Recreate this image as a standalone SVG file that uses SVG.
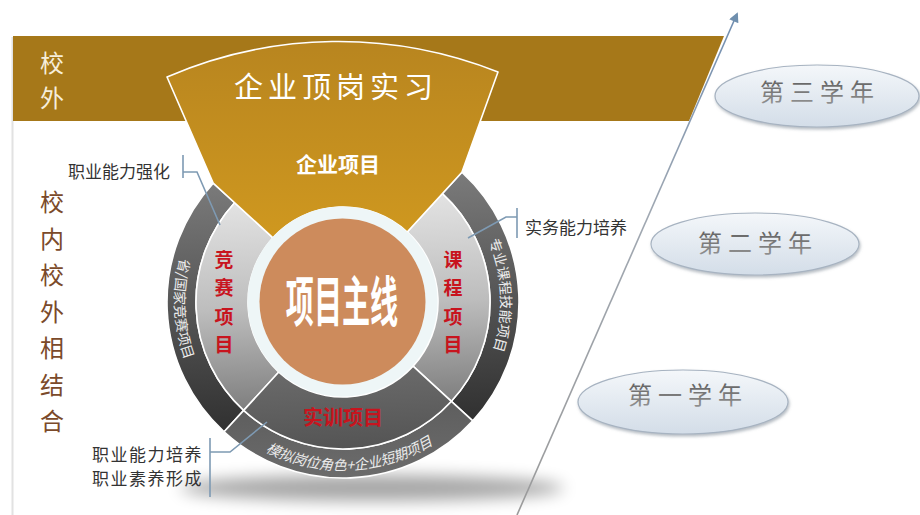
<svg xmlns="http://www.w3.org/2000/svg" width="920" height="515" viewBox="0 0 920 515">
<style>
.cal{font-family:"Noto Sans CJK SC","Noto Sans",sans-serif;}
.lbl{font-family:"Noto Sans CJK SC","Noto Sans",sans-serif;font-size:17px;fill:#333;}
.red{font-family:"Noto Sans CJK SC","Noto Sans",sans-serif;font-weight:bold;fill:#C8141E;text-anchor:middle;}
.ring{font-family:"Noto Sans CJK SC","Noto Sans",sans-serif;font-size:14px;fill:#ececec;}
.lead{fill:none;stroke:#7e9ab3;stroke-width:1.6;}
.seg{stroke:#fff;stroke-width:1.6;stroke-linejoin:round;}
.ell{stroke:#a7b3c1;stroke-width:1.2;fill:url(#ellG);filter:url(#ds);}
.yr{font-family:"Noto Sans CJK SC","Noto Sans",sans-serif;font-size:24px;letter-spacing:6px;fill:url(#txtG);text-anchor:middle;}
</style>
<defs>
<linearGradient id="goldG" x1="0" y1="0" x2="0" y2="1"><stop offset="0" stop-color="#B8851F"/><stop offset="1" stop-color="#CF981F"/></linearGradient>
<linearGradient id="outL" gradientUnits="userSpaceOnUse" x1="0" y1="180" x2="0" y2="430"><stop offset="0" stop-color="#7a7a7a"/><stop offset="1" stop-color="#2f2f2f"/></linearGradient>
<linearGradient id="inL" gradientUnits="userSpaceOnUse" x1="0" y1="200" x2="0" y2="410"><stop offset="0" stop-color="#e2e2e2"/><stop offset="0.5" stop-color="#bdbdbd"/><stop offset="1" stop-color="#7c7c7c"/></linearGradient>
<linearGradient id="inB" gradientUnits="userSpaceOnUse" x1="0" y1="370" x2="0" y2="450"><stop offset="0" stop-color="#6a6a6a"/><stop offset="1" stop-color="#545454"/></linearGradient>
<linearGradient id="outB" gradientUnits="userSpaceOnUse" x1="0" y1="405" x2="0" y2="480"><stop offset="0" stop-color="#5e5e5e"/><stop offset="1" stop-color="#6c6c6c"/></linearGradient>
<linearGradient id="ellG" x1="0" y1="0" x2="0" y2="1"><stop offset="0" stop-color="#f4f7fa"/><stop offset="1" stop-color="#d3dde8"/></linearGradient>
<linearGradient id="txtG" x1="0" y1="0" x2="0" y2="1"><stop offset="0" stop-color="#555"/><stop offset="1" stop-color="#999"/></linearGradient>
<linearGradient id="lineG" gradientUnits="userSpaceOnUse" x1="517" y1="515" x2="738" y2="12"><stop offset="0" stop-color="#9a9a9a"/><stop offset="0.6" stop-color="#a0a8b2"/><stop offset="1" stop-color="#6f8db0"/></linearGradient>
<filter id="blur" x="-20%" y="-100%" width="140%" height="300%"><feGaussianBlur stdDeviation="8"/></filter>
<filter id="ds" x="-10%" y="-20%" width="120%" height="150%"><feDropShadow dx="1" dy="2" stdDeviation="1.5" flood-color="#7a8592" flood-opacity="0.55"/></filter>
<marker id="arr" viewBox="0 0 10 10" refX="8" refY="5" markerWidth="13" markerHeight="10" markerUnits="userSpaceOnUse" orient="auto"><path d="M0,0 L10,5 L0,10 z" fill="#6f8fae"/></marker>
<path id="pL" d="M197.2,217.85 A168.3 168.3 0 0 0 197.2,386.15"/>
<path id="pR" d="M479.6,223.15 A157.7 157.7 0 0 1 479.6,380.85"/>
<path id="pB" d="M234.8,430.9 A168.3 168.3 0 0 0 451.2,430.9"/>
</defs>
<rect width="920" height="515" fill="#fff"/>
<line x1="12.5" y1="37" x2="12.5" y2="515" stroke="#e2e2e2" stroke-width="2"/>

<g id="band">
<polygon points="13,36 724,36 689,121 13,121" fill="#A67819"/>
<text class="cal" x="52" y="72" font-size="24" fill="#f6eedb" text-anchor="middle">校</text>
<text class="cal" x="52" y="107" font-size="24" fill="#f6eedb" text-anchor="middle">外</text>
</g>

<g id="side-label">
<text class="cal" font-size="24" fill="#7b4a2a" text-anchor="middle">
<tspan x="52" y="211">校</tspan><tspan x="52" y="248">内</tspan><tspan x="52" y="284">校</tspan><tspan x="52" y="321">外</tspan><tspan x="52" y="357">相</tspan><tspan x="52" y="394">结</tspan><tspan x="52" y="430">合</tspan>
</text>
</g>

<ellipse cx="372" cy="488" rx="192" ry="13" fill="#000" opacity="0.35" filter="url(#blur)"/>

<g id="wheel" transform="rotate(-2.5 343 302)">
<g id="seg-left">
<path class="seg" fill="url(#outL)" d="M218.55,426.45 A176 176 0 0 1 218.55,177.55 L239.06,198.06 A147 147 0 0 0 239.06,405.94 Z"/>
<path class="seg" fill="url(#inL)" d="M239.06,405.94 A147 147 0 0 1 239.06,198.06 L275.82,234.82 A95 95 0 0 0 275.82,369.18 Z"/>
<text class="ring"><textPath href="#pL" startOffset="50%" text-anchor="middle">省/国家竞赛项目</textPath></text>
</g>
<g id="seg-right">
<path class="seg" fill="url(#outL)" d="M467.45,177.55 A176 176 0 0 1 467.45,426.45 L446.94,405.94 A147 147 0 0 0 446.94,198.06 Z"/>
<path class="seg" fill="url(#inL)" d="M446.94,198.06 A147 147 0 0 1 446.94,405.94 L410.18,369.18 A95 95 0 0 0 410.18,234.82 Z"/>
<text class="ring"><textPath href="#pR" startOffset="50%" text-anchor="middle">专业课程技能项目</textPath></text>
</g>
<g id="seg-bottom">
<path class="seg" fill="url(#outB)" d="M467.45,426.45 A176 176 0 0 1 218.55,426.45 L239.06,405.94 A147 147 0 0 0 446.94,405.94 Z"/>
<path class="seg" fill="url(#inB)" d="M446.94,405.94 A147 147 0 0 1 239.06,405.94 L275.82,369.18 A95 95 0 0 0 410.18,369.18 Z"/>
<text class="ring" font-style="italic"><textPath href="#pB" startOffset="50%" text-anchor="middle">模拟岗位角色+企业短期项目</textPath></text>
</g>
</g>

<g id="gold">
<path d="M167,77 A432 432 0 0 1 498,72 L461.9,172.2 L407.2,232 A95 95 0 0 0 273,237.8 L213.2,183.1 Z" fill="url(#goldG)" stroke="#fff" stroke-width="1.6" stroke-linejoin="round"/>
<text class="cal" x="336" y="98" font-size="29" letter-spacing="5" fill="#fff" text-anchor="middle">企业顶岗实习</text>
<text class="cal" x="338" y="172" font-size="21" font-weight="bold" fill="#fff" text-anchor="middle">企业项目</text>
</g>

<g id="center">
<circle cx="342.5" cy="301.5" r="95" fill="#eef6f7"/>
<circle cx="342.5" cy="301.5" r="83" fill="#CD8B5C"/>
<text class="cal" transform="translate(342 322) scale(0.52 1)" x="0" y="0" font-size="54" font-weight="bold" fill="#fff" text-anchor="middle">项目主线</text>
</g>

<g id="labels-inner">
<text class="red" font-size="19"><tspan x="224" y="267">竞</tspan><tspan x="224" y="295">赛</tspan><tspan x="224" y="324">项</tspan><tspan x="224" y="352">目</tspan></text>
<text class="red" font-size="19"><tspan x="453" y="267">课</tspan><tspan x="453" y="295">程</tspan><tspan x="453" y="324">项</tspan><tspan x="453" y="352">目</tspan></text>
<text class="red" font-size="20" x="343" y="425">实训项目</text>
</g>

<g id="year3"><ellipse class="ell" cx="817" cy="96" rx="102" ry="31"/><text class="yr" x="820" y="101">第三学年</text></g>
<g id="year2"><ellipse class="ell" cx="755" cy="244" rx="104" ry="31"/><text class="yr" x="758" y="252">第二学年</text></g>
<g id="year1"><ellipse class="ell" cx="683" cy="402" rx="105" ry="32"/><text class="yr" x="688" y="404">第一学年</text></g>

<g id="notes">
<text class="lbl" x="68" y="178">职业能力强化</text>
<text class="lbl" x="525" y="234">实务能力培养</text>
<text class="lbl" font-size="16" letter-spacing="1.5"><tspan x="92" y="461">职业能力培养</tspan><tspan x="92" y="485">职业素养形成</tspan></text>
</g>

<g id="connectors">
<line x1="517" y1="515" x2="737" y2="14" stroke="url(#lineG)" stroke-width="1.6" marker-end="url(#arr)"/>
<path class="lead" d="M183,155 V178 M183,172 H197 L220,225"/>
<path class="lead" d="M517,208 V238 M517,217 H506 L468,238"/>
<path class="lead" d="M210,438 V497 M210,452 H230 L267,422"/>
</g>
</svg>
